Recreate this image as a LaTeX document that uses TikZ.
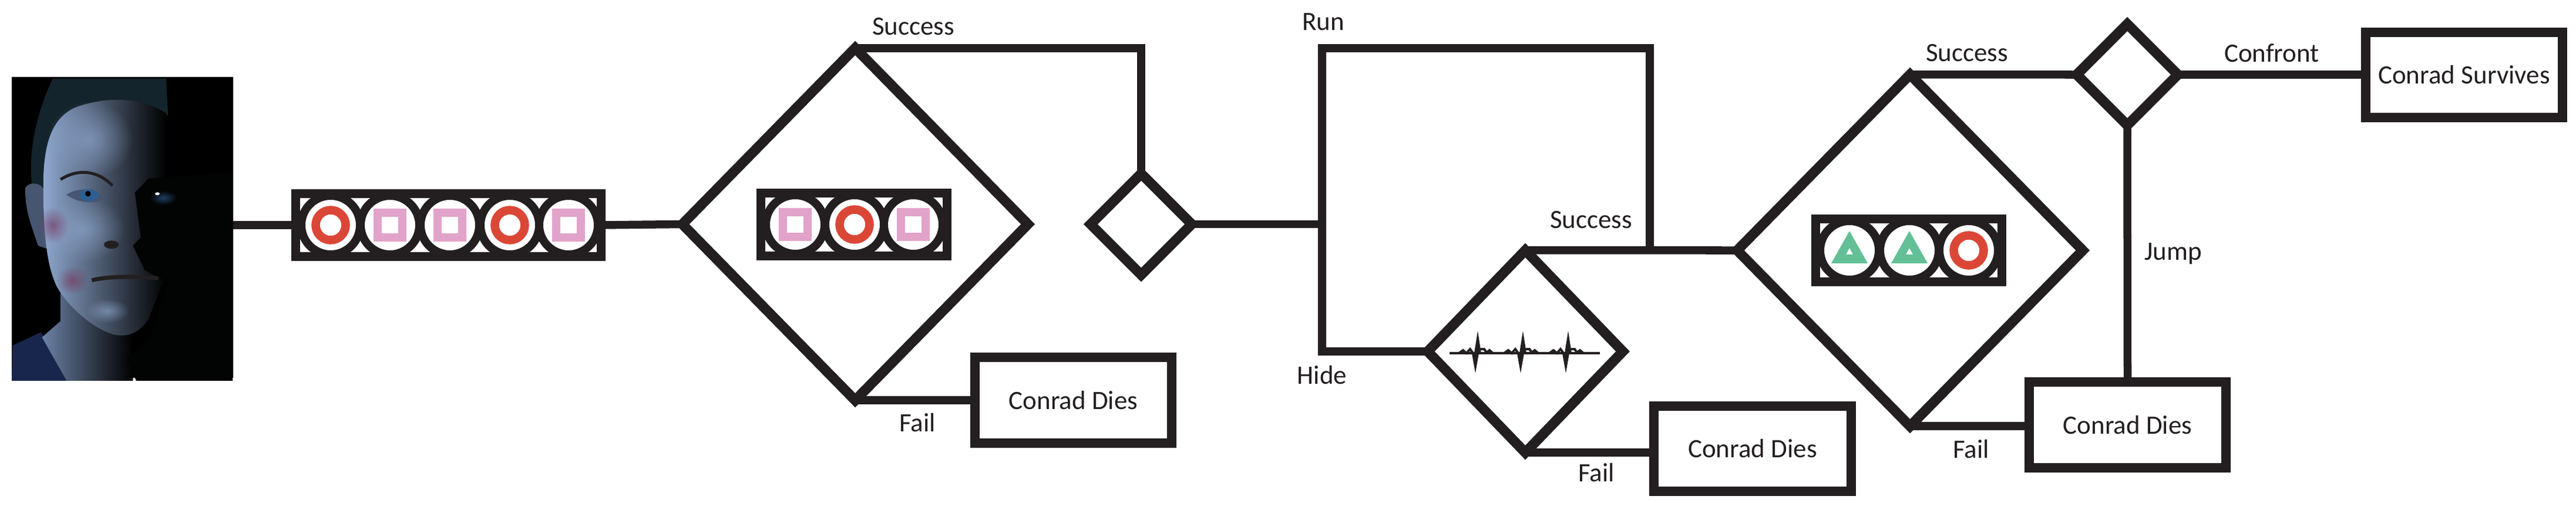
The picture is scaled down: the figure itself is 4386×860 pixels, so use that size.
\documentclass[tikz,border=0pt]{standalone}
\usepackage{fontspec}
\setmainfont{Carlito}
\usetikzlibrary{shapes.geometric,fadings}
\definecolor{ink}{HTML}{231F20}
\definecolor{redbtn}{HTML}{DB4737}
\definecolor{pinkbtn}{HTML}{E2A3CA}
\definecolor{greenbtn}{HTML}{63C096}
\definecolor{skinhi}{HTML}{8FA8CF}
\definecolor{skin}{HTML}{6C82A6}
\definecolor{skinlo}{HTML}{465670}
\definecolor{hair}{HTML}{14242C}
\definecolor{shirt}{HTML}{18264D}
\definecolor{iris}{HTML}{2F5F92}
\tikzfading[name=glow,inner color=transparent!35,outer color=transparent!100]
\tikzset{
  wire/.style={draw=ink,line width=0.135cm},
  choice/.style={draw=ink,line width=0.17cm,diamond,inner sep=0pt,outer sep=0pt},
  endbox/.style={draw=ink,line width=0.16cm,inner sep=0pt,outer sep=0pt,
    minimum width=3.35cm,minimum height=1.45cm,font=\fontsize{12.8}{15}\selectfont,text=ink},
  barbox/.style={draw=ink,fill=white,line width=0.15cm,inner sep=0pt,outer sep=0pt,minimum height=1.07cm},
  lbl/.style={font=\fontsize{12.8}{15}\selectfont,text=ink,inner sep=0pt},
  soft/.style={path fading=glow}
}
\newcommand{\btnback}[2]{\draw[ink,fill=white,line width=0.14cm] (#1,#2) circle (0.5cm);}
\newcommand{\btncircle}[2]{\btnback{#1}{#2}
  \draw[redbtn,line width=0.145cm] (#1,#2) circle (0.255cm);}
\newcommand{\btnsquare}[2]{\btnback{#1}{#2}
  \begin{scope}[shift={(#1,#2)}]
    \draw[pinkbtn,line width=0.14cm] (-21,-21) rectangle (21,21);
  \end{scope}}
\newcommand{\btntriangle}[2]{\btnback{#1}{#2}
  \begin{scope}[shift={(#1,#2)}]
    \fill[greenbtn,even odd rule] (0,-33) -- (31,22) -- (-31,22) -- cycle
      (0,-4) -- (6,7) -- (-6,7) -- cycle;
  \end{scope}}
\newcommand{\beat}[1]{
  \begin{scope}[shift={(#1,601)}]
    \fill[ink] (-6,0) -- (0,-38) -- (6,0) -- (2,0) -- (-4,34) -- (-10,0) -- cycle;
    \draw[ink,line width=0.04cm] (-32,0) -- (-25,-5) -- (-19,0) -- (-13,-7) -- (-8,0)
      (5,-7) -- (11,-7) -- (15,-1) -- (20,-5) -- (26,0);
  \end{scope}}

\begin{document}
\begin{tikzpicture}[x=0.01cm,y=-0.01cm]
  \useasboundingbox (0,0) rectangle (4386,860);

  % portrait
  \node[fill=black,inner sep=0pt,outer sep=0pt,minimum width=3.77cm,minimum height=5.12cm] (photo) at (208.5,387) {};
  \begin{scope}[shift={(0,120)},x=0.003333cm,y=-0.00346cm]
    \clip (60,36) rectangle (1190,1522);
    \fill[shirt] (65,1350) -- (210,1285) -- (360,1530) -- (60,1530) -- cycle;
    \shade[left color=skin,right color=black] (310,1090) -- (310,1230) -- (215,1310) -- (345,1530) -- (680,1530) -- (680,1280) -- cycle;
    \fill[hair] (165,570) .. controls (140,400) and (190,200) .. (270,40) -- (850,40) -- (860,220) -- (400,200) -- (290,280) -- (225,570) -- cycle;
    \fill[skinlo] (130,575) .. controls (150,545) and (200,550) .. (225,580) -- (240,875) -- (195,860) .. controls (160,760) and (125,680) .. cycle;
    \shade[left color=skinhi,middle color=skin,right color=black]
      (222,540) .. controls (225,350) and (270,210) .. (420,170)
      .. controls (560,130) and (720,130) .. (850,210) -- (850,1000) -- (760,1220)
      .. controls (700,1310) and (620,1310) .. (560,1290)
      .. controls (430,1240) and (320,1120) .. (285,1050)
      .. controls (240,950) and (220,800) .. cycle;
    \fill[skinhi,soft] (460,340) ellipse [x radius=220,y radius=190];
    \fill[skinhi,soft] (420,780) ellipse [x radius=220,y radius=160];
    \fill[black!90!hair] (1190,500) -- (760,530) -- (690,600) -- (720,820) -- (680,860) -- (740,980) -- (860,1040) -- (770,1300) -- (650,1420) -- (700,1530) -- (1190,1530) -- cycle;
    \fill[purple!40!skinlo,soft] (270,760) ellipse [x radius=80,y radius=90];
    \fill[purple!40!skinlo,soft] (370,1030) ellipse [x radius=80,y radius=70];
    \draw[ink,line width=0.05cm] (310,535) .. controls (400,480) and (500,490) .. (575,565);
    \fill[skinlo] (340,610) .. controls (400,570) and (490,580) .. (545,625) .. controls (480,660) and (400,650) .. cycle;
    \fill[iris] (455,612) ellipse [x radius=48,y radius=30];
    \fill[black] (450,605) ellipse [x radius=14,y radius=14];
    \fill[iris,soft] (835,625) ellipse [x radius=70,y radius=35];
    \fill[white] (805,605) ellipse [x radius=12,y radius=7];
    \fill[ink] (570,855) ellipse [x radius=38,y radius=20];
    \draw[ink,line width=0.07cm] (470,1030) .. controls (550,1010) and (680,1010) .. (810,1020);
    \fill[skinhi,soft] (550,1180) ellipse [x radius=110,y radius=60];
  \end{scope}

  % button rows
  \node[barbox,minimum width=5.2cm] (barfive) at (763.5,383) {};
  \foreach \x in {563,868} \btncircle{\x}{383};
  \foreach \x in {664,766,968} \btnsquare{\x}{383};
  \node[barbox,minimum width=3.17cm] (barthreea) at (1454,382) {};
  \btnsquare{1354}{382} \btncircle{1455}{382} \btnsquare{1555}{382}
  \node[barbox,minimum width=3.17cm] (barthreeb) at (3250,426) {};
  \foreach \x in {3149,3251} \btntriangle{\x}{426};
  \btncircle{3352}{426}

  % decisions
  \node[choice,minimum width=5.88cm,minimum height=5.99cm] (qtea) at (1456,381.5) {};
  \node[choice,minimum width=1.72cm,minimum height=1.72cm] (forka) at (1943,381.5) {};
  \node[choice,minimum width=3.32cm,minimum height=3.44cm] (pulse) at (2597,598) {};
  \node[choice,minimum width=5.88cm,minimum height=5.98cm] (qteb) at (3252,426) {};
  \node[choice,minimum width=1.72cm,minimum height=1.72cm] (forkb) at (3622,127) {};

  % ends
  \node[endbox] (diea) at (1827.5,681) {Conrad Dies};
  \node[endbox] (dieb) at (2984,763.5) {Conrad Dies};
  \node[endbox] (diec) at (3622.5,723) {Conrad Dies};
  \node[endbox] (live) at (4195.5,127.5) {Conrad Survives};

  % heart trace
  \draw[ink,line width=0.035cm] (2468,601) -- (2724,601);
  \foreach \x in {2516,2593,2670} \beat{\x};

  % connectors
  \coordinate (fork) at (2251,381.5);
  \coordinate (runtop) at (2251,82);
  \coordinate (runend) at (2809,426);
  \draw[wire] (photo.east |- barfive.west) -- (barfive.west);
  \draw[wire] (barfive.east) -- (qtea.west);
  \draw[wire] (qtea.north) -| (forka.north);
  \draw[wire] (qtea.south) -- (diea.west |- qtea.south);
  \draw[wire] (forka.east) -- (fork);
  \draw[wire] (pulse.west) -| (runtop) -| (runend);
  \draw[wire] (pulse.north) -- (qteb.west);
  \draw[wire] (pulse.south) -- (dieb.west |- pulse.south);
  \draw[wire] (qteb.north) -- (forkb.west);
  \draw[wire] (qteb.south) -- (diec.west |- qteb.south);
  \draw[wire] (forkb.south) -- (diec.north);
  \draw[wire] (forkb.east) -- (live.west |- forkb.east);

  % labels
  \node[lbl] (succa) at (1555,45) {Success};
  \node[lbl] (faila) at (1562,719) {Fail};
  \node[lbl] (run) at (2253,37) {Run};
  \node[lbl] (hide) at (2251,638) {Hide};
  \node[lbl] (succb) at (2709,374) {Success};
  \node[lbl] (failb) at (2718,804) {Fail};
  \node[lbl] (succc) at (3349,90) {Success};
  \node[lbl] (failc) at (3356,764) {Fail};
  \node[lbl] (confront) at (3868,90) {Confront};
  \node[lbl] (jump) at (3700,432) {Jump};
\end{tikzpicture}
\end{document}
